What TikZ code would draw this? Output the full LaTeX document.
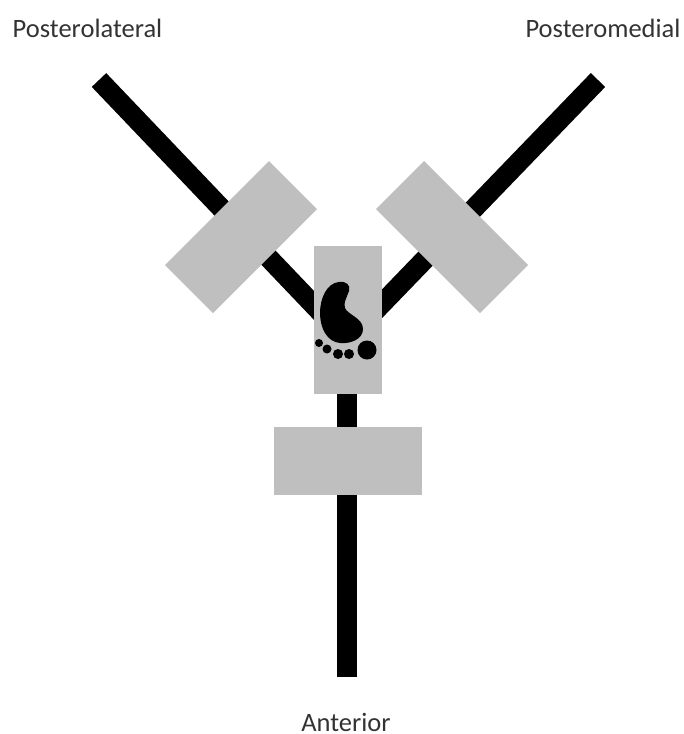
\documentclass[tikz,border=0pt]{standalone}
\usepackage{fontspec}
\setmainfont{Carlito}
\usepackage{xcolor}
\definecolor{platform}{gray}{0.75}
\tikzset{
  walkway/.style={line width=20pt,black},
  platform/.style={fill=platform,draw=none,inner sep=0pt},
  caption/.style={font=\fontsize{26.5}{28}\selectfont,text=black!80,inner sep=0pt}
}
\begin{document}
\begin{tikzpicture}[x=1pt,y=-1pt,line cap=butt]
  \useasboundingbox (0,0) rectangle (684,734);
  \coordinate (hub) at (347,340);
  \coordinate (anteriorend) at (347,677);
  \coordinate (lateralend) at (99,80);
  \coordinate (medialend) at (598,80);
  % walkways
  \draw[walkway] (hub) -- (anteriorend);
  \draw[walkway] (hub) -- (lateralend);
  \draw[walkway] (hub) -- (medialend);
  % plates
  \fill[platform] (269,161) -- (317,209) -- (213,313) -- (165,265) -- cycle;
  \node[platform,minimum width=68pt,minimum height=148pt] (centreplate) at (348,320) {};
  \node[platform,minimum width=148pt,minimum height=68pt] (anteriorplate) at (348,461) {};
  \fill[platform] (424,161) -- (528,265) -- (480,313) -- (376,209) -- cycle;
  % foot
  \fill (339,282) .. controls (346,281) and (351,285) .. (349,291)
    .. controls (347,297) and (343,303) .. (345,308)
    .. controls (348,315) and (363,318) .. (363,329)
    .. controls (363,339) and (351,344) .. (340,343)
    .. controls (327,342) and (320,328) .. (320,313)
    .. controls (320,298) and (327,283) .. (339,282) -- cycle;
  \fill (367,350) circle (9.5pt);
  \fill (349,354) circle (5pt);
  \fill (338,354) circle (5pt);
  \fill (327,349) circle (4.5pt);
  \fill (319,343) circle (4pt);
  % labels
  \node[caption] (lateral) at (87.5,28) {Posterolateral};
  \node[caption] (medial) at (603,28) {Posteromedial};
  \node[caption] (anterior) at (346,722) {Anterior};
\end{tikzpicture}
\end{document}
